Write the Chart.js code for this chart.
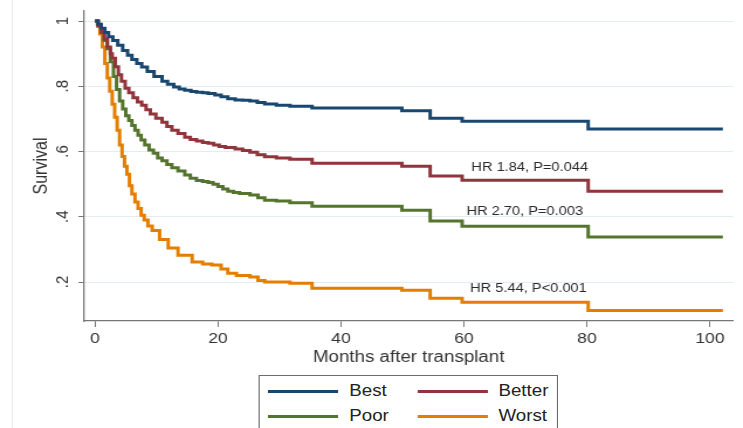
<!DOCTYPE html>
<html><head><meta charset="utf-8">
<script src="https://cdn.jsdelivr.net/npm/chart.js@4.4.1/dist/chart.umd.min.js"></script>
<style>
html,body{margin:0;padding:0;background:#fff;overflow:hidden;width:743px;height:428px;}
#wrap{position:absolute;left:0;top:0;width:635px;height:428px;transform:scaleX(1.17);transform-origin:0 0;}
canvas{display:block;position:absolute;left:0;top:0;}
#frame{position:absolute;left:10px;top:0;width:0;height:428px;border-left:1px solid #ececec;}
#legend{position:absolute;left:220.5px;top:375px;width:256px;height:70px;border:1px solid #6d6d6d;box-sizing:border-box;font-family:"Liberation Sans",Arial,sans-serif;font-size:16px;color:#222;background:#fff;}
.item{position:absolute;height:20px;line-height:20px;display:flex;align-items:center;white-space:nowrap;}
.swatch{width:60px;height:3px;margin-right:9.5px;}
</style></head>
<body>
<div id="wrap">
  <div id="frame"></div>
  <canvas id="c" width="635" height="428"></canvas>
  <div id="legend"></div>
</div>
<script>
// ---- data ----
const seriesNames = ['Best', 'Better', 'Poor', 'Worst'];
const seriesColors = ['#1a476f', '#90353b', '#55752f', '#e37e00'];

const bestT = [0,0.5,1,1.6,2.2,2.9,3.7,4.5,5.3,6.0,6.8,7.6,8.5,9.6,10.9,11.8,12.8,13.7,14.6,15.6,16.5,17.5,18.4,19.5,20.5,21.6,22.8,24,25.2,26.4,27.6,29.5,31.7,35.3,49.9,54.5,59.7,80.2,102.1];
const bestS = [1,0.99,0.978,0.965,0.952,0.94,0.926,0.91,0.895,0.882,0.87,0.859,0.845,0.83,0.815,0.806,0.798,0.792,0.788,0.784,0.782,0.78,0.778,0.773,0.768,0.762,0.758,0.757,0.755,0.75,0.746,0.742,0.739,0.733,0.725,0.702,0.693,0.669,0.669];

const betterT = [0,0.5,1,1.5,2,2.5,2.8,3.3,3.8,4.3,4.9,5.5,6.2,6.9,7.6,8.3,9,9.9,10.9,11.7,12.5,13.5,14.6,15.5,16.5,17.5,18.4,19.3,20.2,21.2,22.8,24,25.2,26.4,27.6,29.5,31.7,35.3,49.9,54.5,59.7,80.2,102.1];
const betterS = [1,0.985,0.965,0.945,0.92,0.9,0.886,0.86,0.835,0.815,0.794,0.78,0.765,0.752,0.742,0.728,0.715,0.702,0.69,0.677,0.665,0.655,0.644,0.637,0.632,0.628,0.625,0.62,0.615,0.612,0.608,0.603,0.598,0.59,0.584,0.58,0.576,0.564,0.555,0.525,0.512,0.478,0.478];

const poorT = [0,0.5,1,1.5,2,2.5,3,3.5,4,4.5,5,5.5,6,6.5,7,7.5,8.1,8.8,9.5,10.2,10.9,11.7,12.5,13.5,14.6,15.5,16.5,17.5,18.4,19.2,20,20.8,21.6,22.5,23.5,25.2,26.5,27.6,29.5,31.7,35.3,49.9,54.5,59.7,80.2,102.1];
const poorS = [1,0.985,0.965,0.94,0.915,0.875,0.83,0.79,0.755,0.73,0.71,0.695,0.68,0.665,0.65,0.635,0.62,0.605,0.595,0.58,0.572,0.56,0.55,0.54,0.528,0.518,0.511,0.508,0.505,0.5,0.493,0.485,0.478,0.474,0.471,0.467,0.458,0.451,0.448,0.443,0.432,0.42,0.387,0.371,0.338,0.338];

const worstT = [0,0.4,0.8,1.2,1.6,2.0,2.4,2.8,3.2,3.6,4.0,4.4,4.8,5.2,5.6,6.0,6.5,7.0,7.5,8.0,8.6,9.3,10.5,11.9,13.5,15.8,17.5,19,20.5,21.6,23,25.2,26.5,27.6,31.7,35.3,49.9,54.5,59.7,80.2,102.1];
const worstS = [1,0.99,0.96,0.92,0.87,0.825,0.785,0.745,0.705,0.665,0.62,0.585,0.555,0.53,0.495,0.47,0.445,0.425,0.405,0.39,0.372,0.358,0.33,0.304,0.282,0.261,0.255,0.252,0.24,0.227,0.22,0.215,0.205,0.2,0.196,0.181,0.175,0.15,0.138,0.113,0.113];

const xTicks = [0, 20, 40, 60, 80, 100];
const yTicks = [0.2, 0.4, 0.6, 0.8, 1];
const yTickLabels = ['.2', '.4', '.6', '.8', '1'];
const hrLabels = ['HR 1.84, P=0.044', 'HR 2.70, P=0.003', 'HR 5.44, P<0.001'];

// ---- layout / style ----
const FONT = '"Liberation Sans", Arial, Helvetica, sans-serif';
const hrPos = [{x: 61.2, y: 0.552}, {x: 60.4, y: 0.415}, {x: 61.0, y: 0.181}];

const allT = [bestT, betterT, poorT, worstT];
const allS = [bestS, betterS, poorS, worstS];

const datasets = seriesNames.map((name, i) => ({
  label: name,
  data: allT[i].map((t, j) => ({x: t, y: allS[i][j]})),
  borderColor: seriesColors[i],
  backgroundColor: seriesColors[i],
  borderWidth: 3,
  pointRadius: 0,
  stepped: 'before',
  fill: false
}));

const extraText = {
  id: 'extraText',
  afterDraw(chart) {
    const ctx = chart.ctx, ys = chart.scales.y, xs = chart.scales.x;
    ctx.save();
    ctx.fillStyle = '#333';
    ctx.font = '15px ' + FONT;
    ctx.textAlign = 'center';
    ctx.textBaseline = 'middle';
    yTicks.forEach((v, i) => {
      const py = ys.getPixelForValue(v);
      ctx.save();
      ctx.translate(54, py);
      ctx.rotate(-Math.PI / 2);
      ctx.fillText(yTickLabels[i], 0, 0);
      ctx.restore();
    });
    ctx.font = '12.5px ' + FONT;
    ctx.textAlign = 'left';
    ctx.fillStyle = '#2a2a2a';
    hrLabels.forEach((t, i) => {
      ctx.fillText(t, xs.getPixelForValue(hrPos[i].x), ys.getPixelForValue(hrPos[i].y));
    });
    ctx.restore();
  }
};

new Chart(document.getElementById('c'), {
  type: 'line',
  data: {datasets},
  plugins: [extraText],
  options: {
    responsive: false,
    animation: false,
    devicePixelRatio: 1,
    layout: {padding: {left: 0, right: 8.5, top: 11, bottom: 61}},
    plugins: {legend: {display: false}, tooltip: {enabled: false}},
    scales: {
      x: {
        type: 'linear', min: -1.75, max: 103.75,
        afterBuildTicks: s => { s.ticks = xTicks.map(v => ({value: v})); },
        afterFit: s => { s.height = 46; },
        grid: {drawOnChartArea: false, drawTicks: true, tickLength: 6, tickColor: '#777', tickWidth: 1},
        border: {display: true, color: '#777', width: 1.3},
        ticks: {color: '#333', font: {family: FONT, size: 15}, padding: 3, maxRotation: 0, autoSkip: false},
        title: {display: true, text: 'Months after transplant', color: '#333', font: {family: FONT, size: 16}, padding: {top: 0, bottom: 0}}
      },
      y: {
        type: 'linear', min: 0.0805, max: 1.0307,
        afterBuildTicks: s => { s.ticks = yTicks.map(v => ({value: v})); },
        afterFit: s => { s.width = 72; },
        grid: {color: '#e3edef', lineWidth: 1, drawTicks: true, tickLength: 5, tickColor: '#777', tickWidth: 1},
        border: {display: true, color: '#777', width: 1.3},
        ticks: {display: false},
        title: {display: true, text: 'Survival', color: '#333', font: {family: FONT, size: 16}, padding: {top: 26, bottom: 0}}
      }
    }
  }
});

// HTML legend built from the series
const leg = document.getElementById('legend');
const pos = [{l: 7.5, t: 5}, {l: 135, t: 5}, {l: 7.5, t: 30}, {l: 135, t: 30}];
seriesNames.forEach((n, i) => {
  const d = document.createElement('div');
  d.className = 'item';
  d.style.left = pos[i].l + 'px';
  d.style.top = pos[i].t + 'px';
  d.innerHTML = '<span class="swatch" style="background:' + seriesColors[i] + '"></span><span>' + n + '</span>';
  leg.appendChild(d);
});
</script>
</body></html>
